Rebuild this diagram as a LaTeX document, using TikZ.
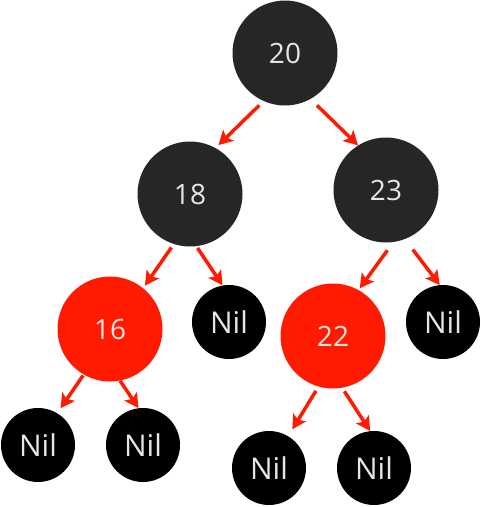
\documentclass[tikz,border=0pt]{standalone}
\usepackage{fontspec}
\setmainfont{Open Sans}
\usetikzlibrary{arrows.meta}
\definecolor{nodegray}{HTML}{262626}
\definecolor{rbred}{HTML}{FF1A00}
\definecolor{txtgray}{HTML}{E6E6E6}

\begin{document}
\begin{tikzpicture}[x=1pt,y=-1pt,
  blk/.style={circle, fill=nodegray, text=txtgray, minimum size=105pt, inner sep=0pt, font=\fontsize{28}{28}\selectfont},
  rd/.style={blk, fill=rbred, text=white!88!rbred},
  nil/.style={circle, fill=black, text=txtgray, minimum size=74pt, inner sep=0pt, font=\fontsize{30}{30}\selectfont},
  arr/.style={draw=rbred, line width=3.5pt, -{Stealth[length=14pt,width=15pt,inset=3pt]}}]
\useasboundingbox (0,0) rectangle (481,507);
\node[blk](n20) at (285,53){20};
\node[blk](n18) at (190,194){18};
\node[blk](n23) at (386,190){23};
\node[rd](n16) at (110,329){16};
\node[rd](n22) at (333,336){22};
\node[nil](nilA) at (229,322){Nil};
\node[nil](nilB) at (443,322){Nil};
\node[nil](nilC) at (38,445){Nil};
\node[nil](nilD) at (143,445){Nil};
\node[nil](nilE) at (269,468){Nil};
\node[nil](nilF) at (374,468){Nil};
\draw[arr, shorten <=6pt, shorten >=4pt](n20.246) -- (n18.61);
\draw[arr, shorten <=9pt](n20.299) -- (n23.122);
\draw[arr, shorten <=4pt, shorten >=3pt](n18.252) -- (n16.51);
\draw[arr, shorten <=2pt](n18.277) -- (nilA.100);
\draw[arr, shorten <=10pt, shorten >=2pt](n23.278) -- (n22.61);
\draw[arr, shorten <=13pt](n23.291) -- (nilB.95);
\draw[arr, shorten <=1pt, shorten >=6pt](n16.240) -- (nilC.59);
\draw[arr](n16.281) -- (nilD.97);
\draw[arr, shorten <=5pt, shorten >=8pt](n22.254) -- (nilE.59);
\draw[arr, shorten <=4pt](n22.280) -- (nilF.96);
\end{tikzpicture}
\end{document}
